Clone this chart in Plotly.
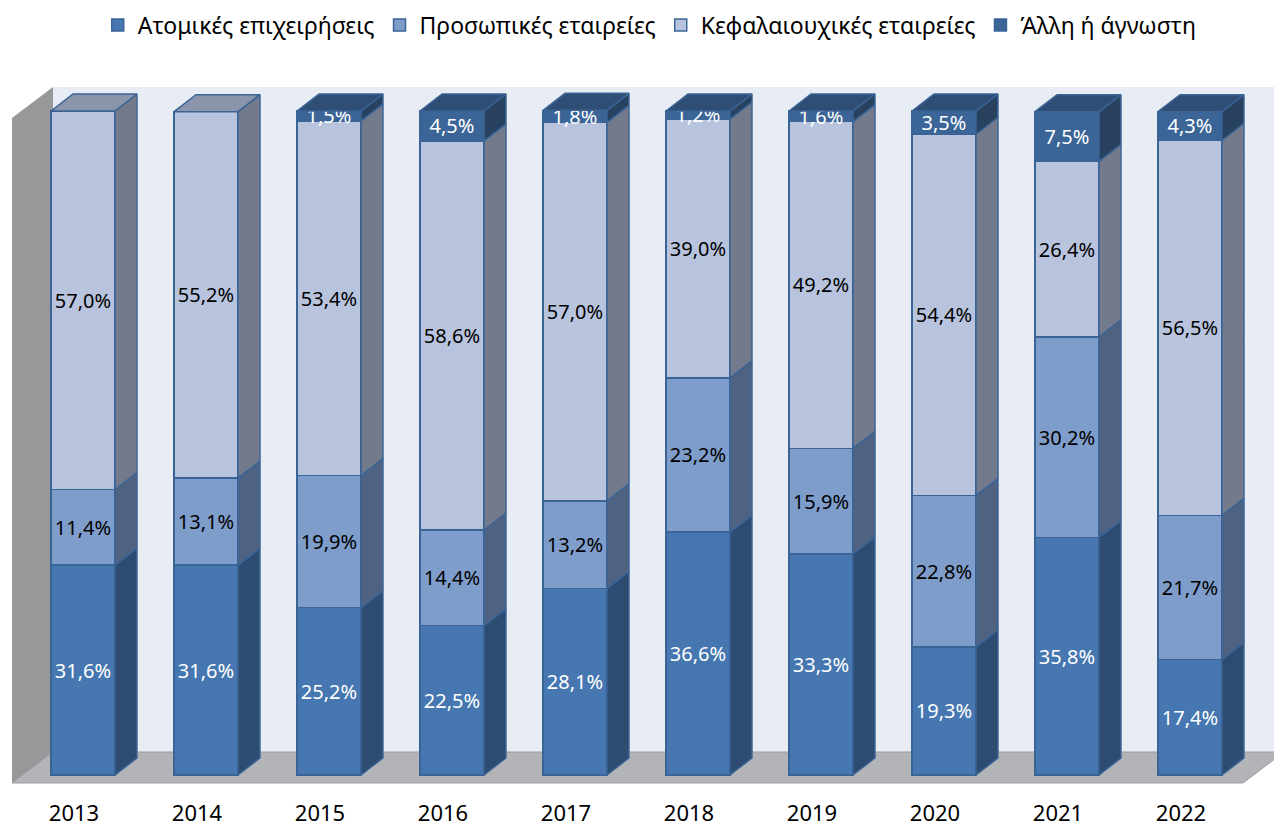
import plotly.graph_objects as go

years = ["2013", "2014", "2015", "2016", "2017", "2018", "2019", "2020", "2021", "2022"]
series_names = ["Ατομικές επιχειρήσεις", "Προσωπικές εταιρείες", "Κεφαλαιουχικές εταιρείες", "Άλλη ή άγνωστη"]
atomikes = [31.6, 31.6, 25.2, 22.5, 28.1, 36.6, 33.3, 19.3, 35.8, 17.4]
prosopikes = [11.4, 13.1, 19.9, 14.4, 13.2, 23.2, 15.9, 22.8, 30.2, 21.7]
kefalaiouxikes = [57.0, 55.2, 53.4, 58.6, 57.0, 39.0, 49.2, 54.4, 26.4, 56.5]
alli = [0.0, 0.0, 1.5, 4.5, 1.8, 1.2, 1.6, 3.5, 7.5, 4.3]

series_values = [atomikes, prosopikes, kefalaiouxikes, alli]
front_colors = ["#4677B0", "#7F9DCB", "#B8C4DE", "#3B6597"]
side_colors = ["#2E4C72", "#4F6282", "#737A8C", "#27415F"]
top_colors = ["#3A6290", "#6A82AA", "#8A94AA", "#2F4E75"]
text_colors = ["white", "black", "black", "white"]
outline = "#3B6496"

FONT = "Noto Sans"
W = 0.52          # bar front width (category units)
DX = 22 / 123     # depth offset x
DY = 17 / 6.64    # depth offset y (percent units)

X_RANGE = [-83 / 123, (1274 - 83) / 123]
Y_RANGE = [(775 - 785) / 6.64, (775 - 85) / 6.64]

fig = go.Figure()

# walls and floor (decoration)
ff = -8 / 6.64
dxw, dyw = 41 / 123, 31 / 6.64
xl = (12 - 83) / 123
xr = (1243 - 83) / 123
ytop = (775 - 87) / 6.64


def path(pts):
    return "M " + " L ".join(f"{x},{y}" for x, y in pts) + " Z"


fig.add_shape(type="path", xref="x", yref="y", layer="below",
              path=path([(xl + dxw, ff + dyw), (X_RANGE[1] + 1, ff + dyw), (X_RANGE[1] + 1, ytop), (xl + dxw, ytop)]),
              fillcolor="#E8ECF5", line=dict(width=0))
fig.add_shape(type="path", xref="x", yref="y", layer="below",
              path=path([(xl, ff), (xl + dxw, ff + dyw), (xl + dxw, ytop), (xl, ytop - dyw)]),
              fillcolor="#97989A", line=dict(width=0))
fig.add_shape(type="path", xref="x", yref="y", layer="below",
              path=path([(xl, ff), (xr, ff), (xr + dxw, ff + dyw), (xl + dxw, ff + dyw)]),
              fillcolor="#B2B4B8", line=dict(width=1, color="#9A9CA0"))

xs = list(range(len(years)))

# side and top faces
cum = [0.0] * len(years)
bases = []
for vals in series_values:
    bases.append(cum[:])
    cum = [c + v for c, v in zip(cum, vals)]

for s, vals in enumerate(series_values):
    sx, sy, tx, ty = [], [], [], []
    for i, v in enumerate(vals):
        if v <= 0:
            continue
        b = bases[s][i]
        t = b + v
        xe = xs[i] + W / 2
        sx += [xe, xe + DX, xe + DX, xe, xe, None]
        sy += [b, b + DY, t + DY, t, b, None]
        above = sum(series_values[k][i] for k in range(s + 1, len(series_values)))
        if above <= 0:
            xs0 = xs[i] - W / 2
            tx += [xs0, xs0 + DX, xe + DX, xe, xs0, None]
            ty += [t, t + DY, t + DY, t, t, None]
    fig.add_trace(go.Scatter(x=sx, y=sy, mode="lines", fill="toself", fillcolor=side_colors[s],
                             line=dict(color=outline, width=1.5), hoverinfo="skip", showlegend=False))
    if tx:
        fig.add_trace(go.Scatter(x=tx, y=ty, mode="lines", fill="toself", fillcolor=top_colors[s],
                                 line=dict(color=outline, width=1.5), hoverinfo="skip", showlegend=False))

for s, vals in enumerate(series_values):
    texts = [(f"{v:.1f}%".replace(".", ",") if v > 0 else "") for v in vals]
    fig.add_trace(go.Bar(
        x=xs, y=vals, name=series_names[s], width=W,
        marker=dict(color=front_colors[s], line=dict(color=outline, width=1.5)),
        text=texts, textposition="inside", insidetextanchor="middle", textangle=0,
        textfont=dict(family=FONT, size=20, color=text_colors[s]),
        hoverinfo="skip",
    ))

fig.update_layout(
    width=1274, height=829,
    barmode="stack",
    margin=dict(l=0, r=0, t=85, b=44, autoexpand=False),
    paper_bgcolor="white", plot_bgcolor="white",
    uniformtext=dict(minsize=20, mode="show"),
    legend=dict(orientation="h", x=0.51, xanchor="center", y=(785 - 25) / 700, yanchor="middle",
                traceorder="normal", font=dict(family=FONT, size=23, color="black"),
                bgcolor="rgba(0,0,0,0)"),
    xaxis=dict(range=X_RANGE, tickvals=[i - 9 / 123 for i in xs], ticktext=years,
               showgrid=False, zeroline=False, showline=False, automargin=False,
               ticks="outside", ticklen=9, tickcolor="rgba(0,0,0,0)",
               tickfont=dict(family=FONT, size=22, color="black")),
    yaxis=dict(range=Y_RANGE, visible=False, showgrid=False, zeroline=False, automargin=False),
    showlegend=True,
)

fig.write_html("out.html", config={"displayModeBar": False},
               post_script="document.body.style.margin='0';document.body.style.overflow='hidden';")
